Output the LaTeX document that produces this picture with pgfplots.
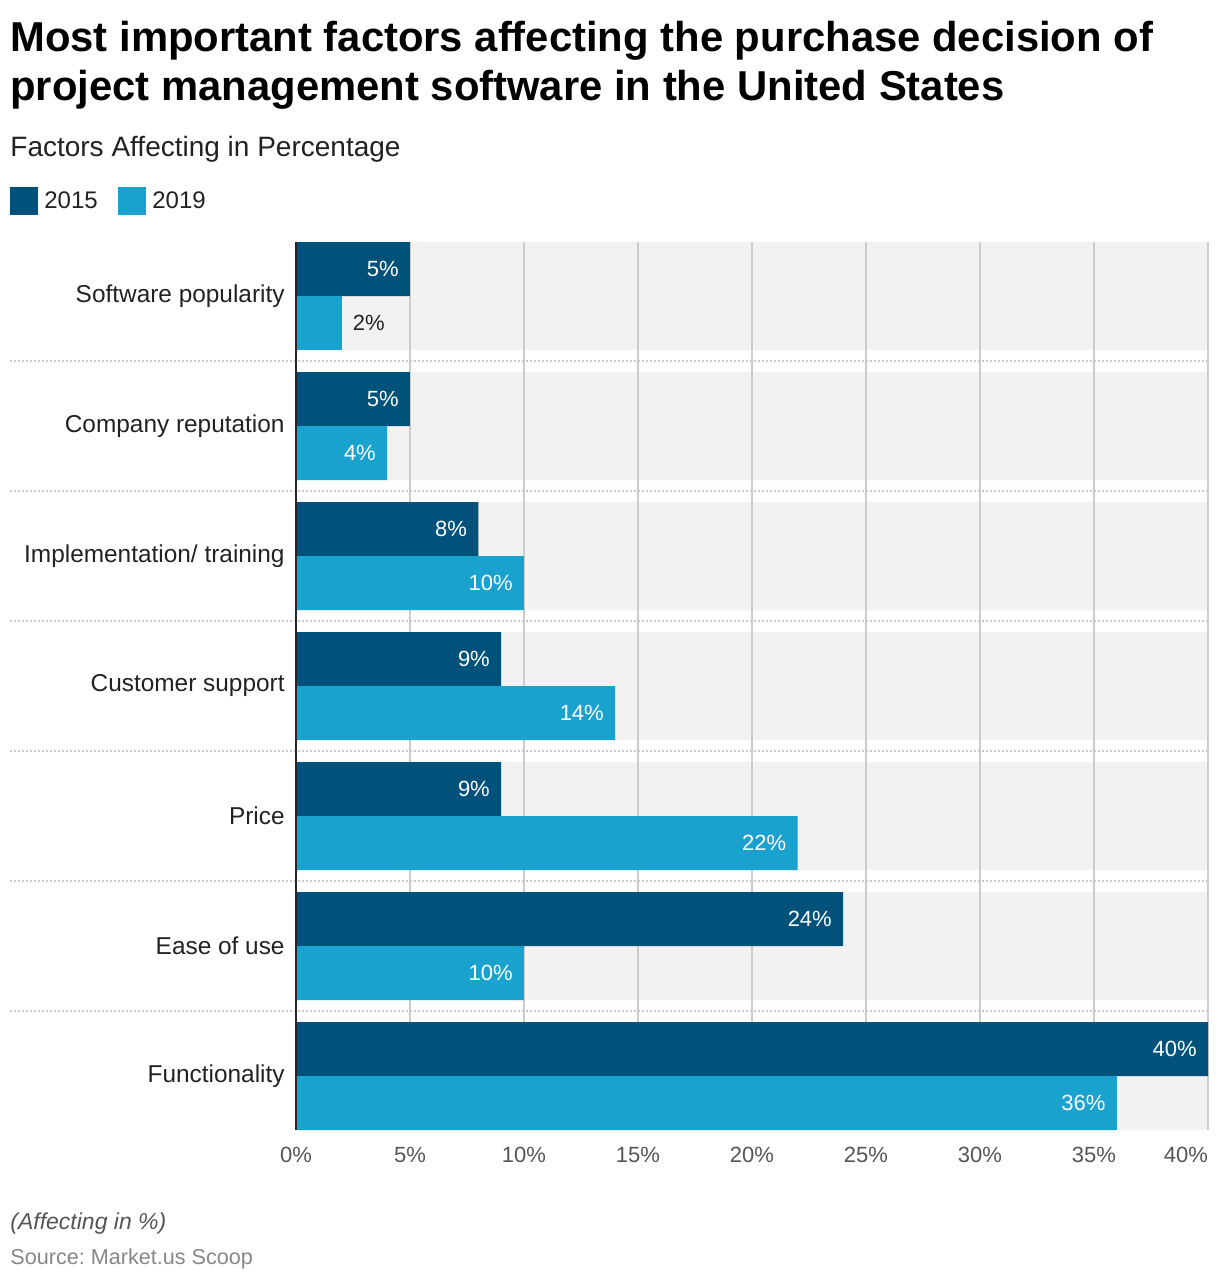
\documentclass[border=0pt]{standalone}
\usepackage{pgfplots}
\pgfplotsset{compat=1.18}
\usepackage{fontspec}
\setmainfont{Liberation Sans}
\frenchspacing
\definecolor{dark}{HTML}{01527A}
\definecolor{light}{HTML}{19A2CE}
\definecolor{bandgray}{HTML}{F2F2F2}
\definecolor{gridgray}{HTML}{CCCCCC}
\definecolor{sepgray}{HTML}{C8C8C8}
\definecolor{ticktext}{HTML}{555555}
\definecolor{labeltext}{HTML}{222222}

\begin{document}
\begin{tikzpicture}
\begin{axis}[
  name=ax, at={(0pt,0pt)}, anchor=south west,
  scale only axis, width=456pt, height=444pt,
  set layers,
  xmin=0, xmax=40,
  ymin=-0.41538, ymax=6.41538,
  axis line style={draw=none},
  major tick length=0pt,
  xmajorgrids, grid style={gridgray, line width=1pt},
  xtick={0,5,...,40},
  xticklabels={0\%,5\%,10\%,15\%,20\%,25\%,30\%,35\%,\makebox[0pt][r]{40\%}},
  xticklabel style={text=ticktext, font=\fontsize{11}{13}\selectfont, inner sep=0pt, anchor=north, yshift=-8.5pt},
  ytick={0,1,2,3,4,5,6},
  yticklabels={Functionality, Ease of use, Price, Customer support, Implementation/ training, Company reputation, Software popularity},
  yticklabel style={text=labeltext, font=\fontsize{12.2}{14}\selectfont, inner sep=0pt, anchor=east, xshift=-5.5pt},
  clip=false,
]
% background bands
\addplot[xbar, bar width=0.83077, bar shift=0pt, fill=bandgray, draw=none, on layer=axis background, forget plot]
  coordinates {(40,0) (40,1) (40,2) (40,3) (40,4) (40,5) (40,6)};
% 2015
\addplot[xbar, bar width=0.41538, bar shift=0pt, fill=dark, draw=none,
  point meta=x,
  nodes near coords={\pgfmathprintnumber[assume math mode=true]{\pgfplotspointmeta}\%},
  every node near coord/.append style={anchor=east, text=white, inner sep=0pt, xshift=-5.5pt, font=\fontsize{11}{13}\selectfont}]
  coordinates {(5,6.20769) (5,5.20769) (8,4.20769) (9,3.20769) (9,2.20769) (24,1.20769) (40,0.20769)};
% 2019
\addplot[xbar, bar width=0.41538, bar shift=0pt, fill=light, draw=none,
  point meta=x,
  nodes near coords={\pgfmathprintnumber[assume math mode=true]{\pgfplotspointmeta}\%},
  every node near coord/.append style={anchor=east, text=white, inner sep=0pt, xshift=-5.5pt, font=\fontsize{11}{13}\selectfont}]
  coordinates {(4,4.79231) (10,3.79231) (14,2.79231) (22,1.79231) (10,0.79231) (36,-0.20769)};
\addplot[xbar, bar width=0.41538, bar shift=0pt, fill=light, draw=none,
  point meta=x,
  nodes near coords={\pgfmathprintnumber[assume math mode=true]{\pgfplotspointmeta}\%},
  every node near coord/.append style={anchor=west, text=labeltext, inner sep=0pt, xshift=5.5pt, font=\fontsize{11}{13}\selectfont}]
  coordinates {(2,5.79231)};
% separators
\pgfplotsinvokeforeach{0.5,1.5,2.5,3.5,4.5,5.5}{
  \draw[sepgray, line width=1pt, dash pattern=on 1pt off 1pt] (axis cs:-12.54,#1) -- (axis cs:40,#1);
}
% y axis line
\draw[black!85, line width=1pt] (axis cs:0,-0.41538) -- (axis cs:0,6.41538);
\end{axis}
\begin{scope}[shift={(ax.south west)}, x=1pt, y=1pt]
% titles
\node[anchor=base west, inner sep=0, font=\bfseries\fontsize{20.9}{24}\selectfont] at (-143,539) {Most important factors affecting the purchase decision of};
\node[anchor=base west, inner sep=0, font=\bfseries\fontsize{20.9}{24}\selectfont] at (-143,514.5) {project management software in the United States};
\node[anchor=base west, inner sep=0, text=labeltext, font=\fontsize{14}{17}\selectfont] at (-143,486.5) {Factors Affecting in Percentage};
% legend
\fill[dark] (-143,457.5) rectangle (-129,471.5);
\node[anchor=base west, inner sep=0, text=labeltext, font=\fontsize{12}{14}\selectfont] at (-126,460.5) {2015};
\fill[light] (-89,457.5) rectangle (-75,471.5);
\node[anchor=base west, inner sep=0, text=labeltext, font=\fontsize{12}{14}\selectfont] at (-72,460.5) {2019};
% footer
\node[anchor=base west, inner sep=0, text=ticktext, font=\itshape\fontsize{11.5}{14}\selectfont] at (-143,-49.5) {(Affecting in \%)};
\node[anchor=base west, inner sep=0, text=black!47, font=\fontsize{10.8}{13}\selectfont] at (-143,-67) {Source: Market.us Scoop};
\path (-148,-76) rectangle (462,565);
\end{scope}
\end{tikzpicture}
\end{document}
